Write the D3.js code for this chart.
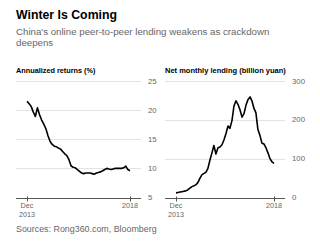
<!DOCTYPE html>
<html><head><meta charset="utf-8">
<script src="https://cdn.jsdelivr.net/npm/d3@7"></script>
<style>
html,body{margin:0;padding:0;background:#fff;}
svg{display:block;font-family:"Liberation Sans",Arial,sans-serif;}
</style></head>
<body>
<svg id="c" width="320" height="243"></svg>
<script>
// Monthly data, Dec 2013 .. Jan 2018
const startMonth = new Date(2013, 11, 1);
const returnsPct = [21.5,21.1,20.6,19.7,18.9,20.4,19.2,18.3,17.6,16.8,15.6,14.6,14.1,13.8,13.7,13.5,13.3,12.9,12.5,12.2,11.5,10.4,10.2,10.1,9.8,9.5,9.2,9.1,9.2,9.2,9.2,9.1,9.0,9.2,9.3,9.4,9.6,9.8,10.0,9.9,9.8,9.9,10.0,10.0,10.0,10.0,10.1,10.4,9.8,9.6];
const lendingBn = [12,13,14,15,16,17,20,24,28,30,33,39,50,59,62,65,75,96,115,134,112,128,130,136,148,165,184,178,198,235,249,240,226,207,216,238,252,259,248,230,218,175,160,140,138,128,115,100,92,88];
const leftTicks = [5,10,15,20,25];
const rightTicks = [0,100,200,300];
const xTickDates = [new Date(2013,11,1), new Date(2018,0,1)];
const xTickLabels = [["Dec","2013"],["2018"]];

const svg = d3.select("#c");
const grey = "#666";

svg.append("text").attr("x",16).attr("y",19).attr("font-size",12.3).attr("font-weight","bold").attr("fill","#000").text("Winter Is Coming");
svg.append("text").attr("x",16).attr("y",35).attr("font-size",9.7).attr("fill",grey).text("China's online peer-to-peer lending weakens as crackdown");
svg.append("text").attr("x",16).attr("y",46).attr("font-size",9.7).attr("fill",grey).text("deepens");
svg.append("text").attr("x",16).attr("y",232).attr("font-size",8.9).attr("fill",grey).text("Sources: Rong360.com, Bloomberg");

function panel(opts){
  const g = svg.append("g");
  const dates = opts.values.map((v,i)=>d3.timeMonth.offset(startMonth,i));
  const x = d3.scaleTime().domain([xTickDates[0], xTickDates[1]]).range([opts.x0, opts.x1]);
  const y = d3.scaleLinear().domain(opts.domain).range([197.5, 81]);
  g.append("text").attr("x",opts.gx0).attr("y",73).attr("font-size",opts.tfs).attr("font-weight","bold").attr("fill","#000").text(opts.title);
  g.selectAll("line.grid").data(opts.ticks.slice(1)).join("line")
    .attr("x1",opts.gx0).attr("x2",opts.gx1)
    .attr("y1",d=>Math.round(y(d))+0.5).attr("y2",d=>Math.round(y(d))+0.5)
    .attr("stroke","#e3e3e3").attr("stroke-width",1);
  g.selectAll("text.yl").data(opts.ticks).join("text")
    .attr("x",opts.gx1+7).attr("y",d=>y(d)+2.6)
    .attr("font-size",7.8).attr("fill",grey).text(d=>d);
  const ax = d3.axisBottom(x).tickValues(xTickDates).tickSize(3).tickFormat("");
  const axg = g.append("g").attr("transform",`translate(0,${Math.round(y(opts.domain[0]))+0.5})`).call(ax);
  axg.select(".domain").remove();
  axg.selectAll(".tick line").attr("stroke","#555").attr("y1",-2).attr("y2",3);
  g.append("line").attr("x1",opts.gx0).attr("x2",opts.gx1)
    .attr("y1",Math.round(y(opts.domain[0]))+0.5).attr("y2",Math.round(y(opts.domain[0]))+0.5)
    .attr("stroke","#555").attr("stroke-width",1);
  xTickDates.forEach((d,i)=>{
    const t = g.append("text").attr("x",x(d)).attr("text-anchor","middle").attr("font-size",7.2).attr("fill",grey);
    xTickLabels[i].forEach((s,k)=>t.append("tspan").attr("x",x(d)).attr("y",208+k*8.5).text(s));
  });
  const line = d3.line().x((d,i)=>x(dates[i])).y(d=>y(d));
  g.append("path").datum(opts.values).attr("d",line).attr("fill","none")
    .attr("stroke","#000").attr("stroke-width",1.6).attr("stroke-linejoin","round");
}

panel({values:returnsPct, domain:[5,25], ticks:leftTicks, x0:27, x1:130, gx0:16, gx1:141, tfs:7.3, title:"Annualized returns (%)"});
panel({values:lendingBn, domain:[0,300], ticks:rightTicks, x0:176, x1:274, gx0:165, gx1:285, tfs:7.5, title:"Net monthly lending (billion yuan)"});
</script>
</body></html>
